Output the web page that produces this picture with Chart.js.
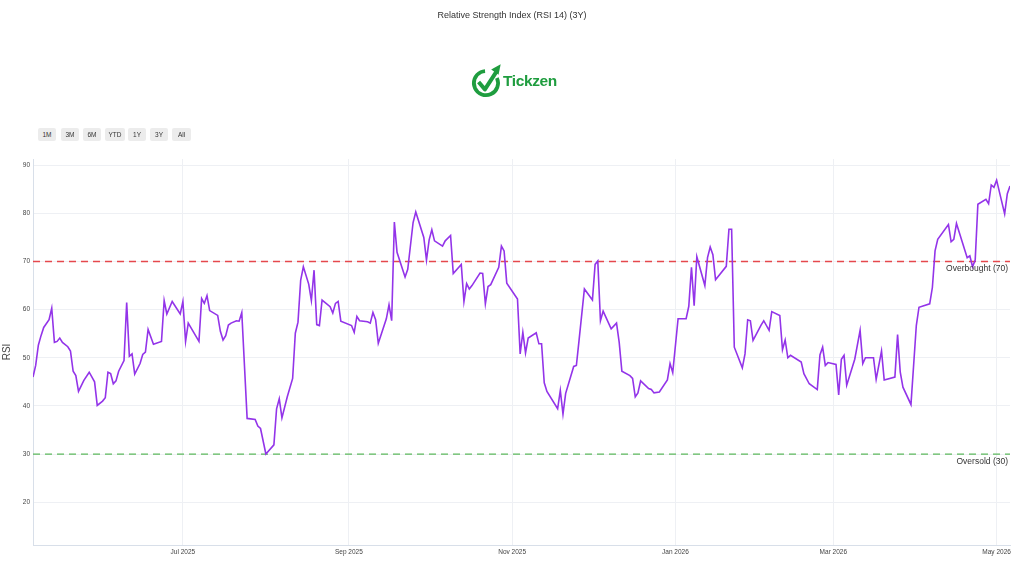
<!DOCTYPE html>
<html>
<head>
<meta charset="utf-8">
<script src="https://cdn.jsdelivr.net/npm/chart.js@4.4.0/dist/chart.umd.min.js"></script>
<style>
  body { margin: 0; background: #fff; font-family: "Liberation Sans", Arial, sans-serif; }
  #wrap { position: relative; width: 1024px; height: 576px; overflow: hidden; }
  #rsiChart { position: absolute; left: 0; top: 0; }
  .title { position: absolute; top: 10px; left: 0; width: 1024px; text-align: center; font-size: 9px; color: #333; }
  .logo { position: absolute; left: 470px; top: 60px; display: flex; align-items: center; }
  .logo span { font-weight: bold; font-size: 15.5px; color: #1f9d3f; margin-left: -1px; letter-spacing: -0.4px; }
  .ranges div { position: absolute; top: 128px; background: #ececec; border-radius: 2px; height: 13px; line-height: 13px; text-align: center; font-size: 6.5px; color: #333; }
</style>
</head>
<body>
<div id="wrap">
  <canvas id="rsiChart" width="1024" height="576"></canvas>
  <div class="title">Relative Strength Index (RSI 14) (3Y)</div>
  <div class="logo">
    <svg width="34" height="42" viewBox="0 0 30 40">
      <circle cx="14" cy="22" r="11.5" fill="none" stroke="#1f9d3f" stroke-width="3.6" stroke-dasharray="58 14" transform="rotate(-25 14 22)"/>
      <polyline points="7,21 13,28 24,11" fill="none" stroke="#1f9d3f" stroke-width="3.8" stroke-linejoin="round"/>
      <polygon points="19,9 28,4 26,14" fill="#1f9d3f"/>
    </svg>
    <span>Tickzen</span>
  </div>
  <div class="ranges">
    <div style="left:38px;width:18px">1M</div>
    <div style="left:61px;width:18px">3M</div>
    <div style="left:83px;width:18px">6M</div>
    <div style="left:105px;width:20px">YTD</div>
    <div style="left:128px;width:18px">1Y</div>
    <div style="left:150px;width:18px">3Y</div>
    <div style="left:172px;width:19px">All</div>
  </div>
</div>
<script>
// RSI readings (date, value)
const dates = [
  '2025-05-06','2025-05-07','2025-05-08','2025-05-09','2025-05-10','2025-05-12','2025-05-13','2025-05-14','2025-05-15','2025-05-16',
  '2025-05-17','2025-05-19','2025-05-20','2025-05-21','2025-05-22','2025-05-23','2025-05-25','2025-05-27','2025-05-29','2025-05-30',
  '2025-06-01','2025-06-02','2025-06-03','2025-06-04','2025-06-05','2025-06-06','2025-06-07','2025-06-09','2025-06-10','2025-06-11',
  '2025-06-12','2025-06-13','2025-06-15','2025-06-16','2025-06-17','2025-06-18','2025-06-20','2025-06-23','2025-06-24','2025-06-25',
  '2025-06-27','2025-06-30','2025-07-01','2025-07-02','2025-07-03','2025-07-07','2025-07-08','2025-07-09','2025-07-10','2025-07-11',
  '2025-07-14','2025-07-15','2025-07-16','2025-07-17','2025-07-18','2025-07-19','2025-07-21','2025-07-22','2025-07-23','2025-07-25',
  '2025-07-28','2025-07-29','2025-07-30','2025-08-01','2025-08-04','2025-08-05','2025-08-06','2025-08-07','2025-08-09','2025-08-11',
  '2025-08-12','2025-08-13','2025-08-14','2025-08-15','2025-08-17','2025-08-18','2025-08-19','2025-08-20','2025-08-21','2025-08-22',
  '2025-08-25','2025-08-26','2025-08-27','2025-08-28','2025-08-29','2025-09-02','2025-09-03','2025-09-04','2025-09-05','2025-09-08',
  '2025-09-09','2025-09-10','2025-09-11','2025-09-12','2025-09-15','2025-09-16','2025-09-17','2025-09-18','2025-09-19','2025-09-22',
  '2025-09-23','2025-09-25','2025-09-26','2025-09-29','2025-09-30','2025-10-01','2025-10-02','2025-10-03','2025-10-06','2025-10-07',
  '2025-10-09','2025-10-10','2025-10-13','2025-10-14','2025-10-15','2025-10-16','2025-10-17','2025-10-20','2025-10-21','2025-10-22',
  '2025-10-23','2025-10-24','2025-10-27','2025-10-28','2025-10-29','2025-10-30','2025-11-03','2025-11-04','2025-11-05','2025-11-06',
  '2025-11-07','2025-11-10','2025-11-11','2025-11-12','2025-11-13','2025-11-14','2025-11-18','2025-11-19','2025-11-20','2025-11-21',
  '2025-11-24','2025-11-25','2025-11-26','2025-11-28','2025-12-01','2025-12-02','2025-12-03','2025-12-04','2025-12-05','2025-12-08',
  '2025-12-10','2025-12-11','2025-12-12','2025-12-15','2025-12-16','2025-12-17','2025-12-18','2025-12-19','2025-12-22','2025-12-23',
  '2025-12-24','2025-12-26','2025-12-29','2025-12-30','2025-12-31','2026-01-02','2026-01-05','2026-01-06','2026-01-07','2026-01-08',
  '2026-01-09','2026-01-12','2026-01-13','2026-01-14','2026-01-15','2026-01-16','2026-01-20','2026-01-21','2026-01-22','2026-01-23',
  '2026-01-26','2026-01-27','2026-01-28','2026-01-29','2026-01-30','2026-02-02','2026-02-03','2026-02-05','2026-02-06','2026-02-09',
  '2026-02-10','2026-02-11','2026-02-12','2026-02-13','2026-02-17','2026-02-18','2026-02-20','2026-02-23','2026-02-24','2026-02-25',
  '2026-02-26','2026-02-27','2026-03-02','2026-03-03','2026-03-04','2026-03-05','2026-03-06','2026-03-09','2026-03-11','2026-03-12',
  '2026-03-13','2026-03-16','2026-03-17','2026-03-19','2026-03-20','2026-03-24','2026-03-25','2026-03-26','2026-03-27','2026-03-30',
  '2026-04-01','2026-04-02','2026-04-06','2026-04-07','2026-04-08','2026-04-09','2026-04-13','2026-04-14','2026-04-15','2026-04-16',
  '2026-04-20','2026-04-21','2026-04-22','2026-04-23','2026-04-24','2026-04-27','2026-04-28','2026-04-29','2026-04-30','2026-05-01',
  '2026-05-04','2026-05-05','2026-05-06'
];
const rsiValues = [
  46.0,48.4,52.6,54.6,56.3,57.9,60.3,53.2,53.4,54.1,
  53.2,52.3,51.4,47.2,46.3,43.0,45.3,47.0,45.0,40.1,
  41.0,41.7,47.0,46.7,44.6,45.2,47.2,49.4,61.5,50.3,
  50.8,46.6,48.8,50.7,51.2,55.9,52.8,53.4,61.9,59.1,
  61.7,59.1,61.7,53.4,57.2,53.4,62.3,61.3,62.9,59.8,
  58.8,55.5,53.7,54.6,56.8,57.2,57.7,57.6,59.4,37.4,
  37.2,35.8,35.3,30.0,31.9,39.4,41.5,37.5,41.9,45.7,
  55.1,57.4,66.1,68.9,65.3,61.9,68.2,56.9,56.7,62.0,
  60.6,59.3,61.3,61.7,57.6,56.7,55.3,58.6,57.7,57.5,
  57.2,59.4,57.9,53.0,58.1,61.0,57.7,78.2,71.9,66.8,
  68.4,78.1,80.3,75.0,70.3,74.5,76.6,74.3,73.2,74.3,
  75.4,67.5,69.4,61.7,65.4,64.3,65.0,67.6,67.5,61.2,
  64.8,65.2,68.8,73.2,72.2,65.5,62.2,50.8,55.3,51.0,
  54.1,55.2,52.9,52.9,44.8,43.0,39.4,43.2,38.3,42.6,
  48.2,48.4,53.6,64.3,62.0,69.4,70.1,57.7,59.7,56.0,
  57.2,53.2,47.2,46.3,45.7,41.9,42.7,45.2,43.6,43.4,
  42.7,42.9,45.4,48.8,46.9,58.1,58.1,60.7,68.8,60.8,
  71.0,65.0,70.8,73.0,71.4,66.2,69.0,76.7,76.7,52.2,
  47.9,50.8,57.9,57.7,53.6,56.8,57.7,55.7,59.6,58.8,
  51.7,53.7,50.0,50.5,49.1,46.7,44.6,43.4,50.6,52.2,
  48.4,49.0,48.6,42.3,49.7,50.5,44.3,49.7,55.7,48.8,
  50.0,50.0,45.5,51.4,45.4,46.0,54.8,47.0,43.9,40.3,
  56.7,60.5,61.2,64.6,72.2,74.6,77.7,74.1,74.6,77.9,
  70.8,71.2,68.9,70.3,81.9,82.9,82.0,85.9,85.4,86.9,
  79.9,84.1,85.7
];

// axis ticks
const xTickDates = ['2025-07-01','2025-09-01','2025-11-01','2026-01-01','2026-03-01','2026-05-01'];
const yTickValues = [20, 30, 40, 50, 60, 70, 80, 90];
const monthNames = ['Jan','Feb','Mar','Apr','May','Jun','Jul','Aug','Sep','Oct','Nov','Dec'];

const overbought = 70;
const oversold = 30;

const toTime = d => Date.parse(d + 'T00:00:00Z');
const xMin = toTime(dates[0]);
const xMax = toTime(dates[dates.length - 1]);

const rsiPoints = dates.map((d, i) => ({ x: toTime(d), y: rsiValues[i] }));

// labels under the dashed levels
const levelLabels = {
  id: 'levelLabels',
  afterDatasetsDraw(chart) {
    const { ctx, chartArea, scales } = chart;
    ctx.save();
    ctx.font = '8.5px "Liberation Sans", Arial, sans-serif';
    ctx.fillStyle = '#333';
    ctx.textAlign = 'right';
    ctx.textBaseline = 'top';
    ctx.fillText('Overbought (70)', chartArea.right - 2, scales.y.getPixelForValue(overbought) + 3);
    ctx.fillText('Oversold (30)', chartArea.right - 2, scales.y.getPixelForValue(oversold) + 3);
    ctx.restore();
  }
};

new Chart(document.getElementById('rsiChart'), {
  type: 'line',
  data: {
    datasets: [
      {
        label: 'RSI',
        data: rsiPoints,
        borderColor: '#9334e9',
        borderWidth: 1.6,
        pointRadius: 0,
        tension: 0
      },
      {
        label: 'Overbought',
        data: [{ x: xMin, y: overbought }, { x: xMax, y: overbought }],
        borderColor: '#e5484d',
        borderWidth: 1.3,
        borderDash: [7, 5],
        pointRadius: 0
      },
      {
        label: 'Oversold',
        data: [{ x: xMin, y: oversold }, { x: xMax, y: oversold }],
        borderColor: '#5cb85c',
        borderWidth: 1.3,
        borderDash: [7, 5],
        pointRadius: 0
      }
    ]
  },
  options: {
    responsive: false,
    animation: false,
    layout: { padding: { top: 159, right: 14, bottom: 0, left: 0 } },
    plugins: { legend: { display: false }, tooltip: { enabled: false } },
    scales: {
      x: {
        type: 'linear',
        min: xMin,
        max: xMax,
        grid: { color: '#eef0f4', drawTicks: false },
        border: { color: '#d8dfe9' },
        afterBuildTicks: scale => { scale.ticks = xTickDates.map(d => ({ value: toTime(d) })); },
        afterFit: scale => { scale.height = 31; },
        ticks: {
          padding: 3,
          maxRotation: 0,
          color: '#444',
          font: { size: 6.5, family: '"Liberation Sans", Arial, sans-serif' },
          callback: v => { const d = new Date(v); return monthNames[d.getUTCMonth()] + ' ' + d.getUTCFullYear(); }
        }
      },
      y: {
        min: 11.1,
        max: 91.3,
        grid: { color: '#eef0f4', drawTicks: false },
        border: { color: '#d8dfe9' },
        afterBuildTicks: scale => { scale.ticks = yTickValues.map(v => ({ value: v })); },
        afterFit: scale => { scale.width = 33; },
        title: {
          display: true,
          text: 'RSI',
          color: '#444',
          padding: { top: 1, bottom: 0 },
          font: { size: 10, family: '"Liberation Sans", Arial, sans-serif' }
        },
        ticks: {
          padding: 3,
          color: '#444',
          font: { size: 6.5, family: '"Liberation Sans", Arial, sans-serif' }
        }
      }
    }
  },
  plugins: [levelLabels]
});
</script>
</body>
</html>
